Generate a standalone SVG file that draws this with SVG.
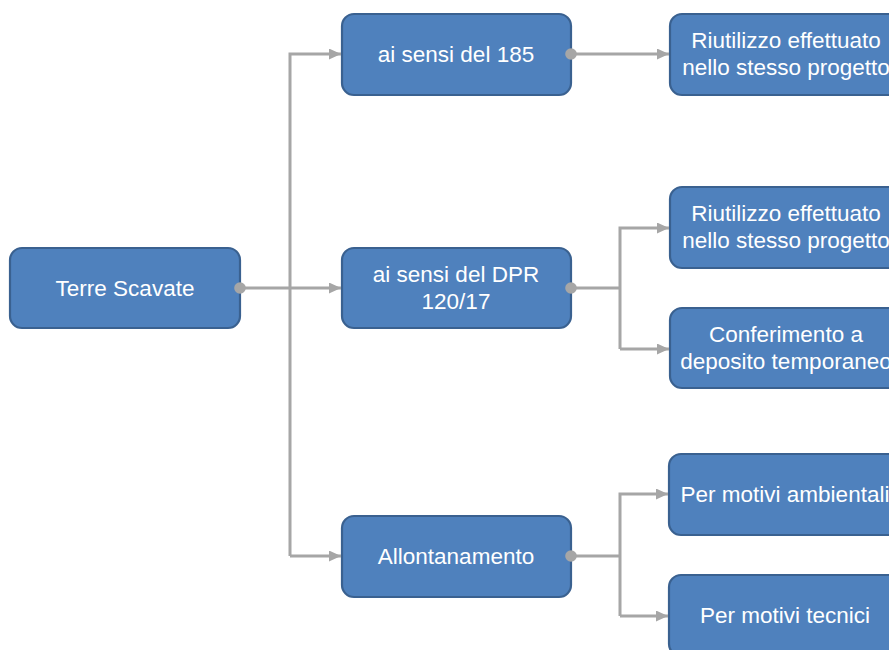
<svg xmlns="http://www.w3.org/2000/svg" width="889" height="650" viewBox="0 0 889 650">
  <style>
    .box { fill: #4F81BD; stroke: #3A6190; stroke-width: 2.2; }
    .lbl { fill: #FFFFFF; font-family: "Liberation Sans", Arial, sans-serif; font-size: 22.5px; text-anchor: middle; }
    .wire { fill: none; stroke: #A6A6A6; stroke-width: 3; }
    .dot { fill: #A6A6A6; }
  </style>
  <defs>
    <marker id="arrow" viewBox="0 0 12 11" refX="12" refY="5.5" markerWidth="12" markerHeight="11" markerUnits="userSpaceOnUse" orient="auto">
      <path d="M0,0 L12,5.5 L0,11 Z" fill="#A6A6A6"/>
    </marker>
  </defs>

  <rect width="889" height="650" fill="#FFFFFF"/>

  <g id="terre-scavate">
    <rect class="box" x="10" y="248" width="230" height="80" rx="12"/>
    <text class="lbl" x="125" y="296">Terre Scavate</text>
  </g>

  <g id="sensi-185">
    <rect class="box" x="342" y="14" width="229" height="81" rx="12"/>
    <text class="lbl" x="456" y="62">ai sensi del 185</text>
  </g>

  <g id="sensi-dpr">
    <rect class="box" x="342" y="248" width="229" height="80" rx="12"/>
    <text class="lbl" x="456" y="282">ai sensi del DPR</text>
    <text class="lbl" x="456" y="309">120/17</text>
  </g>

  <g id="allontanamento">
    <rect class="box" x="342" y="516" width="229" height="81" rx="12"/>
    <text class="lbl" x="456" y="564">Allontanamento</text>
  </g>

  <g id="riutilizzo-1">
    <rect class="box" x="670" y="14" width="232" height="81" rx="12"/>
    <text class="lbl" x="786" y="48">Riutilizzo effettuato</text>
    <text class="lbl" x="786" y="75">nello stesso progetto</text>
  </g>

  <g id="riutilizzo-2">
    <rect class="box" x="670" y="187" width="232" height="81" rx="12"/>
    <text class="lbl" x="786" y="221">Riutilizzo effettuato</text>
    <text class="lbl" x="786" y="248">nello stesso progetto</text>
  </g>

  <g id="deposito">
    <rect class="box" x="670" y="308" width="232" height="80" rx="12"/>
    <text class="lbl" x="786" y="342">Conferimento a</text>
    <text class="lbl" x="786" y="369">deposito temporaneo</text>
  </g>

  <g id="motivi-ambientali">
    <rect class="box" x="669" y="454" width="232" height="81" rx="12"/>
    <text class="lbl" x="785" y="502">Per motivi ambientali</text>
  </g>

  <g id="motivi-tecnici">
    <rect class="box" x="669" y="575" width="232" height="81" rx="12"/>
    <text class="lbl" x="785" y="623">Per motivi tecnici</text>
  </g>

  <g id="connectors">
    <!-- root to first level -->
    <path class="wire" d="M240,288 H341" marker-end="url(#arrow)"/>
    <path class="wire" d="M290,556 V54 H341" marker-end="url(#arrow)"/>
    <path class="wire" d="M290,556 H341" marker-end="url(#arrow)"/>
    <!-- ai sensi del 185 -->
    <path class="wire" d="M571,54 H669" marker-end="url(#arrow)"/>
    <!-- DPR 120/17 -->
    <path class="wire" d="M571,288 H620"/>
    <path class="wire" d="M620,349 V228 H669" marker-end="url(#arrow)"/>
    <path class="wire" d="M620,349 H669" marker-end="url(#arrow)"/>
    <!-- Allontanamento -->
    <path class="wire" d="M571,556 H620"/>
    <path class="wire" d="M620,616 V494 H668" marker-end="url(#arrow)"/>
    <path class="wire" d="M620,616 H668" marker-end="url(#arrow)"/>
    <!-- source dots -->
    <circle class="dot" cx="240" cy="288" r="5.8"/>
    <circle class="dot" cx="571" cy="54" r="5.8"/>
    <circle class="dot" cx="571" cy="288" r="5.8"/>
    <circle class="dot" cx="571" cy="556" r="5.8"/>
  </g>
</svg>
